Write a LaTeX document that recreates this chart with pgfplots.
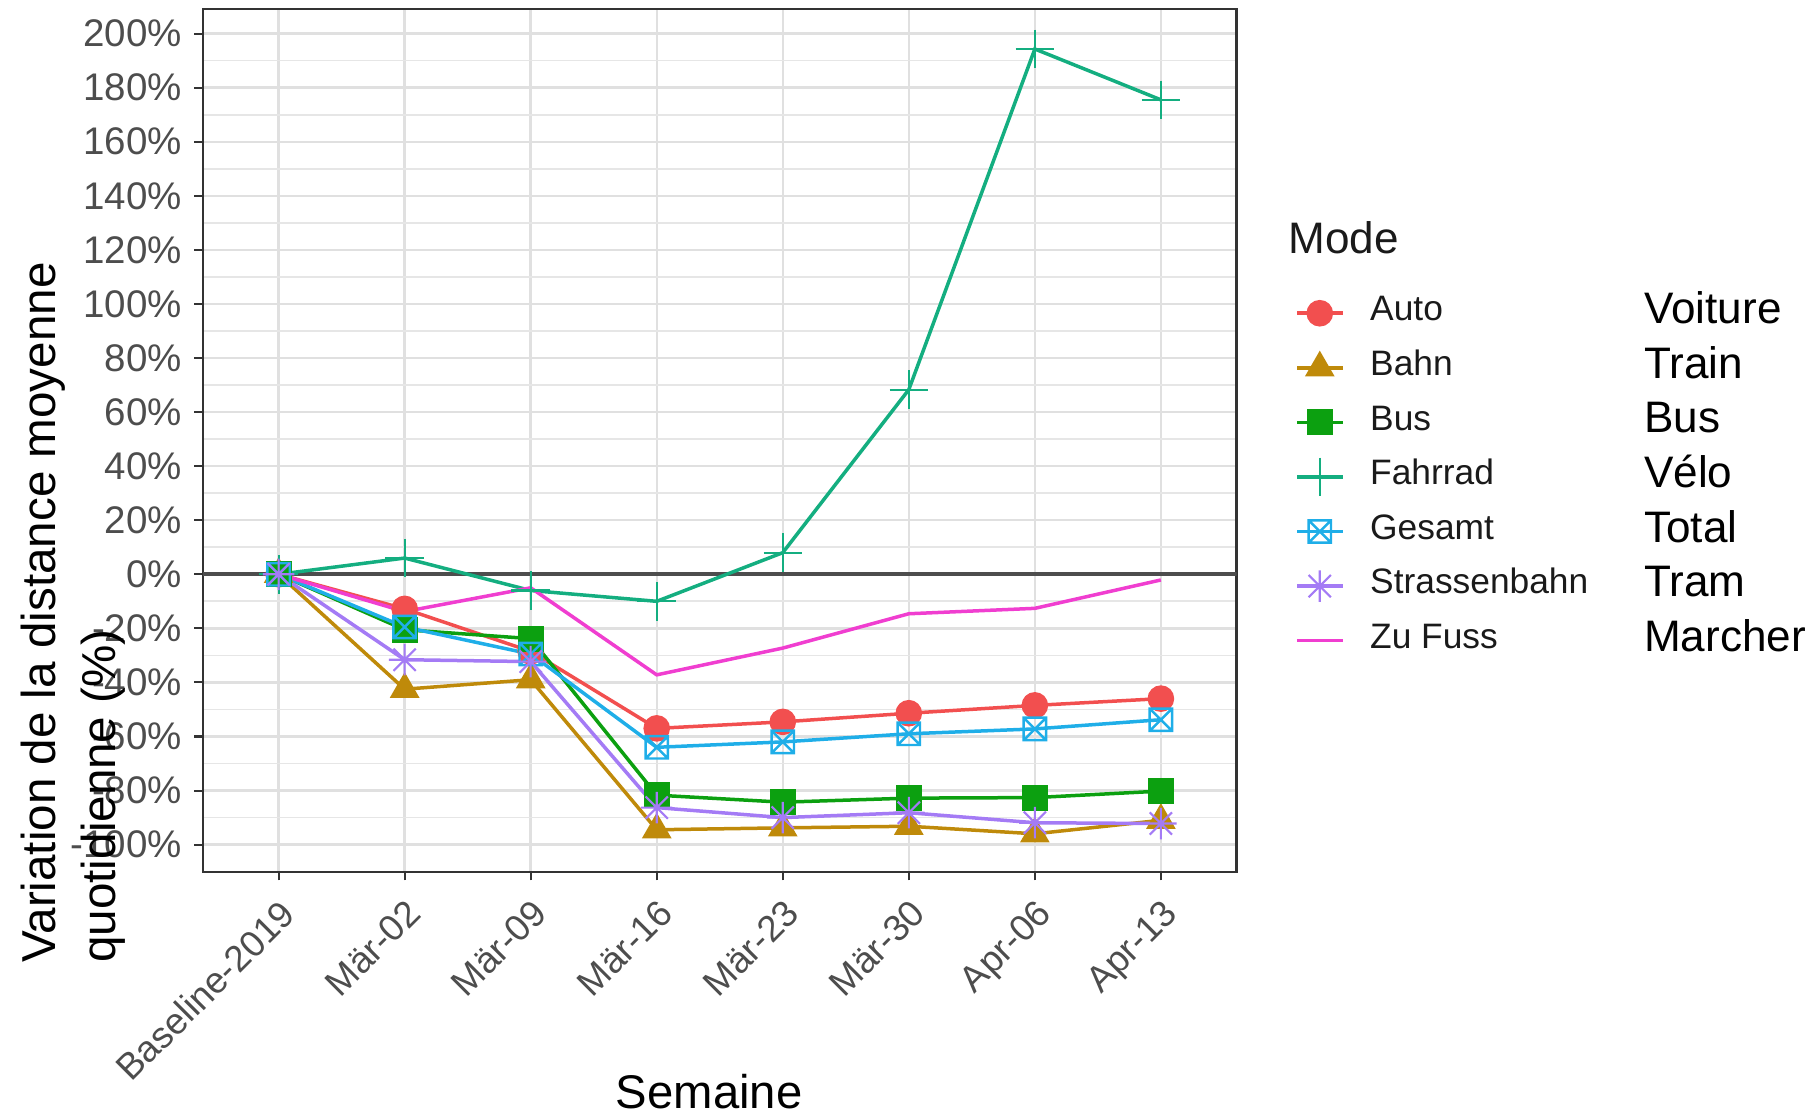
\documentclass[border=0pt]{standalone}
\usepackage{fontspec}
\setmainfont{Liberation Sans}
\usepackage{pgfplots}
\pgfplotsset{compat=1.18}

\definecolor{cAuto}{HTML}{F24F4F}
\definecolor{cBahn}{HTML}{BF8A0A}
\definecolor{cBus}{HTML}{0CA010}
\definecolor{cRad}{HTML}{14AE80}
\definecolor{cGes}{HTML}{1FAEE8}
\definecolor{cTram}{HTML}{A47BF5}
\definecolor{cFuss}{HTML}{F03ED0}
\definecolor{tickgrey}{HTML}{4D4D4D}
\definecolor{gridgrey}{HTML}{E0E0E0}
\definecolor{legtext}{HTML}{1A1A1A}

% boxed cross (ggplot shape 7)
\pgfdeclareplotmark{boxx}{%
  \pgfpathrectangle{\pgfqpoint{-\pgfplotmarksize}{-\pgfplotmarksize}}{\pgfqpoint{2\pgfplotmarksize}{2\pgfplotmarksize}}%
  \pgfpathmoveto{\pgfqpoint{-\pgfplotmarksize}{-\pgfplotmarksize}}%
  \pgfpathlineto{\pgfqpoint{\pgfplotmarksize}{\pgfplotmarksize}}%
  \pgfpathmoveto{\pgfqpoint{-\pgfplotmarksize}{\pgfplotmarksize}}%
  \pgfpathlineto{\pgfqpoint{\pgfplotmarksize}{-\pgfplotmarksize}}%
  \pgfusepathqstroke}
% eight-ray asterisk (ggplot shape 8)
\pgfdeclareplotmark{star8}{%
  \pgfpathmoveto{\pgfqpoint{0pt}{\pgfplotmarksize}}\pgfpathlineto{\pgfqpoint{0pt}{-\pgfplotmarksize}}%
  \pgfpathmoveto{\pgfqpoint{\pgfplotmarksize}{0pt}}\pgfpathlineto{\pgfqpoint{-\pgfplotmarksize}{0pt}}%
  \pgfpathmoveto{\pgfqpoint{.7071\pgfplotmarksize}{.7071\pgfplotmarksize}}\pgfpathlineto{\pgfqpoint{-.7071\pgfplotmarksize}{-.7071\pgfplotmarksize}}%
  \pgfpathmoveto{\pgfqpoint{-.7071\pgfplotmarksize}{.7071\pgfplotmarksize}}\pgfpathlineto{\pgfqpoint{.7071\pgfplotmarksize}{-.7071\pgfplotmarksize}}%
  \pgfusepathqstroke}

\newcommand{\fr}[1]{\raisebox{-0.8pt}{\fontsize{12.6}{14}\selectfont\color{black}#1}}

\begin{document}
\begin{tikzpicture}
\begin{axis}[
    at={(0,0)}, anchor=south west,
    scale only axis, width=295.3pt, height=246.4pt,
    xmin=-0.6, xmax=7.6, ymin=-110, ymax=209,
    xtick={0,...,7},
    xticklabels={Baseline-2019,Mär-02,Mär-09,Mär-16,Mär-23,Mär-30,Apr-06,Apr-13},
    ytick={-100,-80,...,200},
    minor ytick={-90,-70,...,190},
    yticklabel={\pgfmathprintnumber{\tick}\%},
    /pgf/number format/assume math mode=true,
    xtick pos=bottom, ytick pos=left,
    tick align=outside, major tick length=2.5pt, minor tick length=0pt,
    tick style={color=black!80, line width=0.6pt},
    grid=both,
    major grid style={gridgrey, line width=0.7pt},
    minor grid style={gridgrey!80, line width=0.5pt},
    axis line style={color=black!80, line width=0.6pt},
    xticklabel style={rotate=45, anchor=north east, font=\fontsize{10.5}{12}\selectfont, text=tickgrey},
    yticklabel style={font=\fontsize{11}{13}\selectfont, text=tickgrey},
    every axis plot/.append style={line width=1pt},
    legend cell align=left,
    legend image code/.code={\draw[mark repeat=2,mark phase=2] plot coordinates {(0pt,0pt) (6.5pt,0pt) (13pt,0pt)};},
    legend style={at={(1.0562,0.4577)}, anchor=west, draw=none, fill=none,
        inner sep=0pt, column sep=7.4pt, row sep=0pt,
        font=\fontsize{10.1}{12}\selectfont, text=legtext,
        nodes={inner sep=0pt, text height=10pt, text depth=5.59pt}},
]
\addplot[tickgrey, line width=1.2pt, forget plot] coordinates {(-0.6,0) (7.6,0)};

\addplot[cAuto, mark=*, mark size=3.3pt] coordinates {
 (0,0) (1,-12.8) (2,-28.5) (3,-57) (4,-54.6) (5,-51.4) (6,-48.5) (7,-46)};
\addlegendentry{\makebox[78.3pt][l]{Auto}\fr{Voiture}}

\addplot[cBahn, mark=triangle*, mark size=3.9pt] coordinates {
 (0,0) (1,-42.5) (2,-39) (3,-94.5) (4,-93.8) (5,-93.2) (6,-96) (7,-91)};
\addlegendentry{\makebox[78.3pt][l]{Bahn}\fr{Train}}

\addplot[cBus, mark=square*, mark size=3.2pt] coordinates {
 (0,0) (1,-20.5) (2,-23.8) (3,-81.7) (4,-84.3) (5,-82.8) (6,-82.6) (7,-80.2)};
\addlegendentry{\makebox[78.3pt][l]{Bus}\fr{Bus}}

\addplot[cRad, mark=+, mark size=5.5pt, mark options={line width=0.6pt}] coordinates {
 (0,0) (1,6) (2,-6) (3,-10) (4,8) (5,68.3) (6,194.3) (7,175.5)};
\addlegendentry{\makebox[78.3pt][l]{Fahrrad}\fr{Vélo}}

\addplot[cGes, mark=boxx, mark size=3.2pt, mark options={line width=0.7pt}] coordinates {
 (0,0) (1,-19.5) (2,-29.5) (3,-64) (4,-62) (5,-59) (6,-57.2) (7,-53.8)};
\addlegendentry{\makebox[78.3pt][l]{Gesamt}\fr{Total}}

\addplot[cTram, mark=star8, mark size=4.5pt, mark options={line width=0.6pt}] coordinates {
 (0,0) (1,-31.6) (2,-32.3) (3,-86.3) (4,-90) (5,-88.2) (6,-91.9) (7,-92.2)};
\addlegendentry{\makebox[78.3pt][l]{Strassenbahn}\fr{Tram}}

\addplot[cFuss, no marks] coordinates {
 (0,0) (1,-13.8) (2,-5) (3,-37.2) (4,-27.3) (5,-14.6) (6,-12.6) (7,-2.1)};
\addlegendentry{\makebox[78.3pt][l]{Zu Fuss}\fr{Marcher}}
\end{axis}

\node[anchor=west, inner sep=0pt, font=\fontsize{12.6}{15}\selectfont, text=legtext] at (310pt,181pt) {Mode};
\node[rotate=90, anchor=west, inner sep=0pt, font=\fontsize{13.6}{16}\selectfont] at (-45.8pt,-26.2pt) {Variation de la distance moyenne};
\node[rotate=90, anchor=west, inner sep=0pt, font=\fontsize{13.6}{16}\selectfont] at (-28.4pt,-26.2pt) {quotidienne (\%)};
\node[inner sep=0pt, font=\fontsize{13.5}{16}\selectfont] at (144.6pt,-62.7pt) {Semaine};

\pgfresetboundingbox
\useasboundingbox (-58pt,-68.66pt) rectangle (462pt,249.05pt);
\end{tikzpicture}
\end{document}
